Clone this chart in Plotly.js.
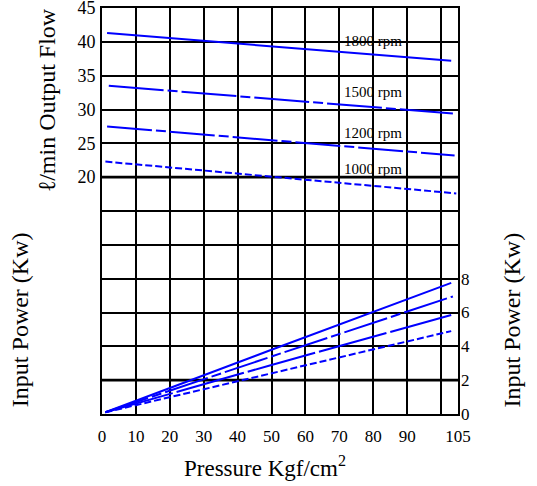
<!DOCTYPE html>
<html>
<head>
<meta charset="utf-8">
<script src="https://cdn.plot.ly/plotly-3.0.1.min.js"></script>
<style>html,body{margin:0;padding:0;background:#fff;}#chart{width:537px;height:486px;}</style>
</head>
<body>
<div id="chart"></div>
<script>
// Output flow (l/min) vs pressure
const flowPressure1800 = [1.5, 50, 103];
const flow1800 = [41.3, 39.3, 37.2];
const flowPressure1500 = [2, 50, 103.5];
const flow1500 = [33.5, 31.6, 29.4];
const flowPressure1200 = [1.5, 50, 104];
const flow1200 = [27.5, 25.5, 23.2];
const flowPressure1000 = [1, 50, 104.5];
const flow1000 = [22.3, 20.1, 17.6];

// Input power (kW) vs pressure
const powerPressure1800 = [1, 50, 103];
const power1800 = [0.1, 3.8, 7.75];
const powerPressure1500 = [1, 50, 103.5];
const power1500 = [0.1, 3.4, 6.95];
const powerPressure1200 = [1, 50, 103];
const power1200 = [0.1, 2.9, 5.85];
const powerPressure1000 = [1, 50, 103];
const power1000 = [0.1, 2.4, 4.9];

const rpmLabels = ["1800 rpm", "1500 rpm", "1200 rpm", "1000 rpm"];
const rpmLabelFlow = [40.1, 32.6, 26.5, 21.2];
const rpmLabelPressure = 80;

const xTicks = [0, 10, 20, 30, 40, 50, 60, 70, 80, 90, 100, 105];
const xTickText = ["0", "10", "20", "30", "40", "50", "60", "70", "80", "90", " ", "105"];
const flowTicks = [-15, -10, -5, 0, 5, 10, 15, 20, 25, 30, 35, 40, 45];
const flowTickText = [" ", " ", " ", " ", " ", " ", " ", "20", "25", "30", "35", "40", "45"];
const powerTicks = [0, 2, 4, 6, 8];

const blue = "#0000ff";
const FONT = "Liberation Serif";

function line(x, y, dash, axis) {
  return {x: x, y: y, yaxis: axis, type: "scatter", mode: "lines",
          line: {color: blue, width: 2, dash: dash}, showlegend: false, hoverinfo: "skip"};
}

const data = [
  line(flowPressure1800, flow1800, "solid", "y"),
  line(flowPressure1500, flow1500, "55px,4px,10px,4px", "y"),
  line(flowPressure1200, flow1200, "45px,4px,10px,4px", "y"),
  line(flowPressure1000, flow1000, "7px,3px", "y"),
  line(powerPressure1800, power1800, "solid", "y2"),
  line(powerPressure1500, power1500, "45px,4px,10px,4px", "y2"),
  line(powerPressure1200, power1200, "70px,4px", "y2"),
  line(powerPressure1000, power1000, "7px,3px", "y2")
];

const annotations = rpmLabels.map((t, i) => ({
  x: rpmLabelPressure, y: rpmLabelFlow[i], xref: "x", yref: "y", text: t,
  showarrow: false, font: {family: FONT, size: 15, color: "#000"}, xanchor: "center", yanchor: "middle"
}));
annotations.push(
  {x: 0.459, y: -0.13, xref: "paper", yref: "paper", text: "Pressure Kgf/cm<sup>2</sup>",
   showarrow: false, font: {family: FONT, size: 23, color: "#000"}, xanchor: "center", yanchor: "middle"},
  {x: -0.154, y: 0.773, xref: "paper", yref: "paper", text: "ℓ/min Output Flow", textangle: -90,
   showarrow: false, font: {family: FONT, size: 24, color: "#000"}, xanchor: "center", yanchor: "middle"},
  {x: -0.23, y: 0.2315, xref: "paper", yref: "paper", text: "Input Power (Kw)", textangle: -90,
   showarrow: false, font: {family: FONT, size: 24, color: "#000"}, xanchor: "center", yanchor: "middle"},
  {x: 1.153, y: 0.2315, xref: "paper", yref: "paper", text: "Input Power (Kw)", textangle: -90,
   showarrow: false, font: {family: FONT, size: 24, color: "#000"}, xanchor: "center", yanchor: "middle"}
);

const layout = {
  width: 537, height: 486,
  margin: {l: 102, r: 79, t: 8, b: 72},
  paper_bgcolor: "#fff", plot_bgcolor: "#fff",
  font: {family: FONT, color: "#000"},
  showlegend: false,
  xaxis: {range: [0, 105], tickvals: xTicks, ticktext: xTickText, showgrid: true,
          gridcolor: "#000", gridwidth: 2, zeroline: false, showline: true, mirror: true,
          linecolor: "#000", linewidth: 2, ticks: "", ticklabelstandoff: 6, ticklabeloverflow: "allow",
          tickfont: {family: FONT, size: 17, color: "#000"}},
  yaxis: {range: [-15, 45], tickvals: flowTicks, ticktext: flowTickText, showgrid: true,
          gridcolor: "#000", gridwidth: 2, zeroline: false, showline: true, mirror: true,
          linecolor: "#000", linewidth: 2, ticks: "", ticklabelstandoff: 1, ticklabeloverflow: "allow",
          tickfont: {family: FONT, size: 18, color: "#000"}},
  yaxis2: {range: [0, 24], tickvals: powerTicks, overlaying: "y", side: "right", showgrid: false,
           zeroline: false, showline: false, ticks: "", ticklabelstandoff: 2, ticklabeloverflow: "allow",
           tickfont: {family: FONT, size: 17, color: "#000"}},
  shapes: [
    {type: "line", xref: "paper", x0: 0, x1: 1, yref: "y", y0: 20, y1: 20, line: {color: "#000", width: 2.6}, layer: "below"},
    {type: "line", xref: "paper", x0: 0, x1: 1, yref: "y2", y0: 2, y1: 2, line: {color: "#000", width: 2.6}, layer: "below"}
  ],
  annotations: annotations
};

Plotly.newPlot("chart", data, layout, {displayModeBar: false, staticPlot: true});
</script>
</body>
</html>
